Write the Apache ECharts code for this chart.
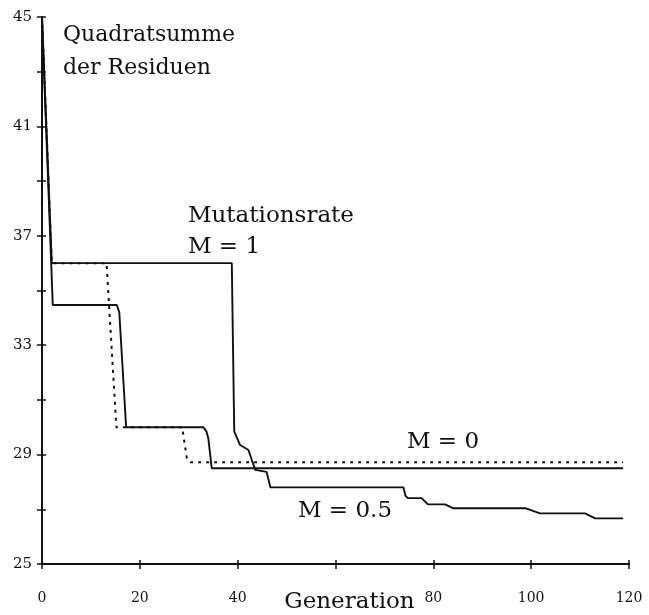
<!DOCTYPE html>
<html>
<head>
<meta charset="utf-8">
<script src="https://cdn.jsdelivr.net/npm/echarts@6/dist/echarts.min.js"></script>
<style>
  html, body { margin: 0; padding: 0; background: #fff; }
  #main { width: 649px; height: 615px; }
</style>
</head>
<body>
<div id="main"></div>
<script>
// values (generation, sum of squared residuals)
const genM1 = [0, 2, 38.8, 39.3, 40.5, 42.2, 42.9, 43.6, 45.9, 46.7, 73.9, 74.3, 74.8, 77.6, 78.9, 82.4, 84.0, 98.8, 101.8, 111.0, 113.1, 118.8];
const ssrM1 = [45, 36, 36, 29.85, 29.35, 29.17, 28.8, 28.44, 28.37, 27.8, 27.8, 27.5, 27.41, 27.41, 27.18, 27.18, 27.04, 27.04, 26.85, 26.85, 26.67, 26.67];

const genM05 = [0, 2.2, 15.3, 15.8, 17.2, 33.0, 33.6, 34.0, 34.7, 118.8];
const ssrM05 = [45, 34.47, 34.47, 34.2, 30.0, 30.0, 29.85, 29.6, 28.5, 28.5];

const genM0 = [0, 2, 13.2, 15.2, 28.7, 28.9, 29.6, 30.3, 118.8];
const ssrM0 = [45, 36, 36, 30.0, 30.0, 29.7, 28.88, 28.72, 28.72];

const yTicks = [25, 27, 29, 31, 33, 35, 37, 39, 41, 43, 45];
const yLabels = [25, 29, 33, 37, 41, 45];
const xTicks = [0, 20, 40, 60, 80, 100, 120];
const xLabels = [0, 20, 40, 80, 100, 120];

const serif = 'DejaVu Serif';
const ink = '#111';

function pairs(xs, ys) {
  return xs.map((x, i) => [x, ys[i]]);
}

let chart = echarts.init(document.getElementById('main'), null, { renderer: 'canvas' });

let lineBase = {
  type: 'line',
  showSymbol: false,
  symbol: 'none',
  xAxisIndex: 0,
  yAxisIndex: 0,
  animation: false
};

let option = {
  backgroundColor: '#fff',
  animation: false,
  grid: { left: 42, right: 20, top: 17, bottom: 51, containLabel: false, outerBoundsMode: 'none' },
  xAxis: [{
    type: 'value',
    min: 0,
    max: 120,
    name: 'Generation',
    nameLocation: 'middle',
    nameGap: 27,
    nameMoveOverlap: false,
    nameTextStyle: { fontFamily: serif, fontSize: 23, color: ink, padding: [0, 0, 0, 28] },
    axisLine: { lineStyle: { color: ink, width: 2 } },
    axisTick: { show: true, length: 5, customValues: xTicks, lineStyle: { color: ink, width: 1.5 } },
    axisLabel: { customValues: xLabels, margin: 27, fontFamily: serif, fontSize: 14, color: ink },
    splitLine: { show: false }
  }, {
    type: 'value',
    min: 0,
    max: 120,
    position: 'bottom',
    axisLine: { show: false },
    axisTick: { show: true, inside: true, length: 4, customValues: xTicks, lineStyle: { color: ink, width: 1.5 } },
    axisLabel: { show: false },
    splitLine: { show: false }
  }],
  yAxis: [{
    type: 'value',
    min: 25,
    max: 45,
    axisLine: { show: true, lineStyle: { color: ink, width: 2 } },
    axisTick: { show: true, length: 5, customValues: yTicks, lineStyle: { color: ink, width: 1.5 } },
    axisLabel: { customValues: yLabels, margin: 10, fontFamily: serif, fontSize: 15, color: ink },
    splitLine: { show: false }
  }, {
    type: 'value',
    min: 25,
    max: 45,
    position: 'left',
    axisLine: { show: false },
    axisTick: { show: true, inside: true, length: 4, customValues: yTicks, lineStyle: { color: ink, width: 1.5 } },
    axisLabel: { show: false },
    splitLine: { show: false }
  }],
  graphic: [
    { type: 'text', left: 63, top: 19, style: { text: 'Quadratsumme\nder Residuen', fontFamily: serif, fontSize: 22, lineHeight: 33, fill: ink } },
    { type: 'text', left: 188, top: 201, style: { text: 'Mutationsrate\nM = 1', fontFamily: serif, fontSize: 23, lineHeight: 31, fill: ink } },
    { type: 'text', left: 407, top: 431, style: { text: 'M = 0', fontFamily: serif, fontSize: 23, fill: ink } },
    { type: 'text', left: 298, top: 500, style: { text: 'M = 0.5', fontFamily: serif, fontSize: 23, fill: ink } }
  ],
  series: [
    Object.assign({}, lineBase, {
      name: 'M = 1',
      data: pairs(genM1, ssrM1),
      lineStyle: { color: ink, width: 1.9 }
    }),
    Object.assign({}, lineBase, {
      name: 'M = 0.5',
      data: pairs(genM05, ssrM05),
      lineStyle: { color: ink, width: 1.9 }
    }),
    Object.assign({}, lineBase, {
      name: 'M = 0',
      data: pairs(genM0, ssrM0),
      lineStyle: { color: ink, width: 2, type: [3, 5] }
    })
  ]
};

chart.setOption(option);
</script>
</body>
</html>
